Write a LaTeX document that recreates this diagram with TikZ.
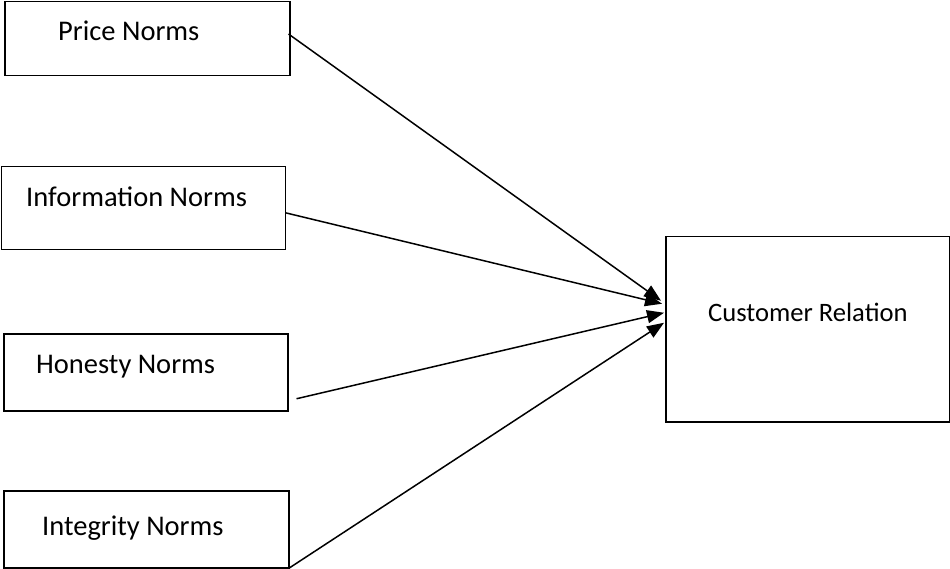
\documentclass[tikz,border=0pt]{standalone}
\usepackage{fontspec}
\setmainfont{Carlito}
\usetikzlibrary{calc,arrows.meta}
\tikzset{
  box/.style={draw=black, line width=1.5pt, rectangle, inner sep=0pt, anchor=north west},
  lbl/.style={inner sep=0pt, anchor=base west, font=\fontsize{28.5}{32}\selectfont},
  conn/.style={line width=1.5pt, -{Triangle[length=17pt,width=13pt]}}
}
\begin{document}
\begin{tikzpicture}[x=1pt,y=-1pt]
\useasboundingbox (0,0) rectangle (950,569);
\node[box, minimum width=285pt, minimum height=74pt] (p) at (4,1) {};
\node[box, minimum width=284pt, minimum height=83pt] (i) at (0.8,166) {};
\node[box, minimum width=284pt, minimum height=77pt] (h) at (3,333) {};
\node[box, minimum width=285pt, minimum height=77pt] (g) at (3,490) {};
\node[box, minimum width=284pt, minimum height=185pt] (c) at (665,236) {};
\node[lbl] (pt) at (58,41) {Price Norms};
\node[lbl] (it) at (26,207) {Information Norms};
\node[lbl] (ht) at (36,373) {Honesty Norms};
\node[lbl] (gt) at (42,535) {Integrity Norms};
\node[lbl, font=\fontsize{26.6}{30}\selectfont] (ct) at (708,321) {Customer Relation};
\draw[conn] ($(p.north east)+(-2,33)$) -- ($(c.west)+(-4,-28.5)$);
\draw[conn] ($(i.east)+(-1,4.5)$) -- ($(c.west)+(-3,-25.5)$);
\draw[conn] ($(h.east)+(8,26.5)$) -- ($(c.west)+(-1,-16.5)$);
\draw[conn] ($(g.south east)+(-1,0)$) -- ($(c.west)+(-1,-6.5)$);
\end{tikzpicture}
\end{document}
